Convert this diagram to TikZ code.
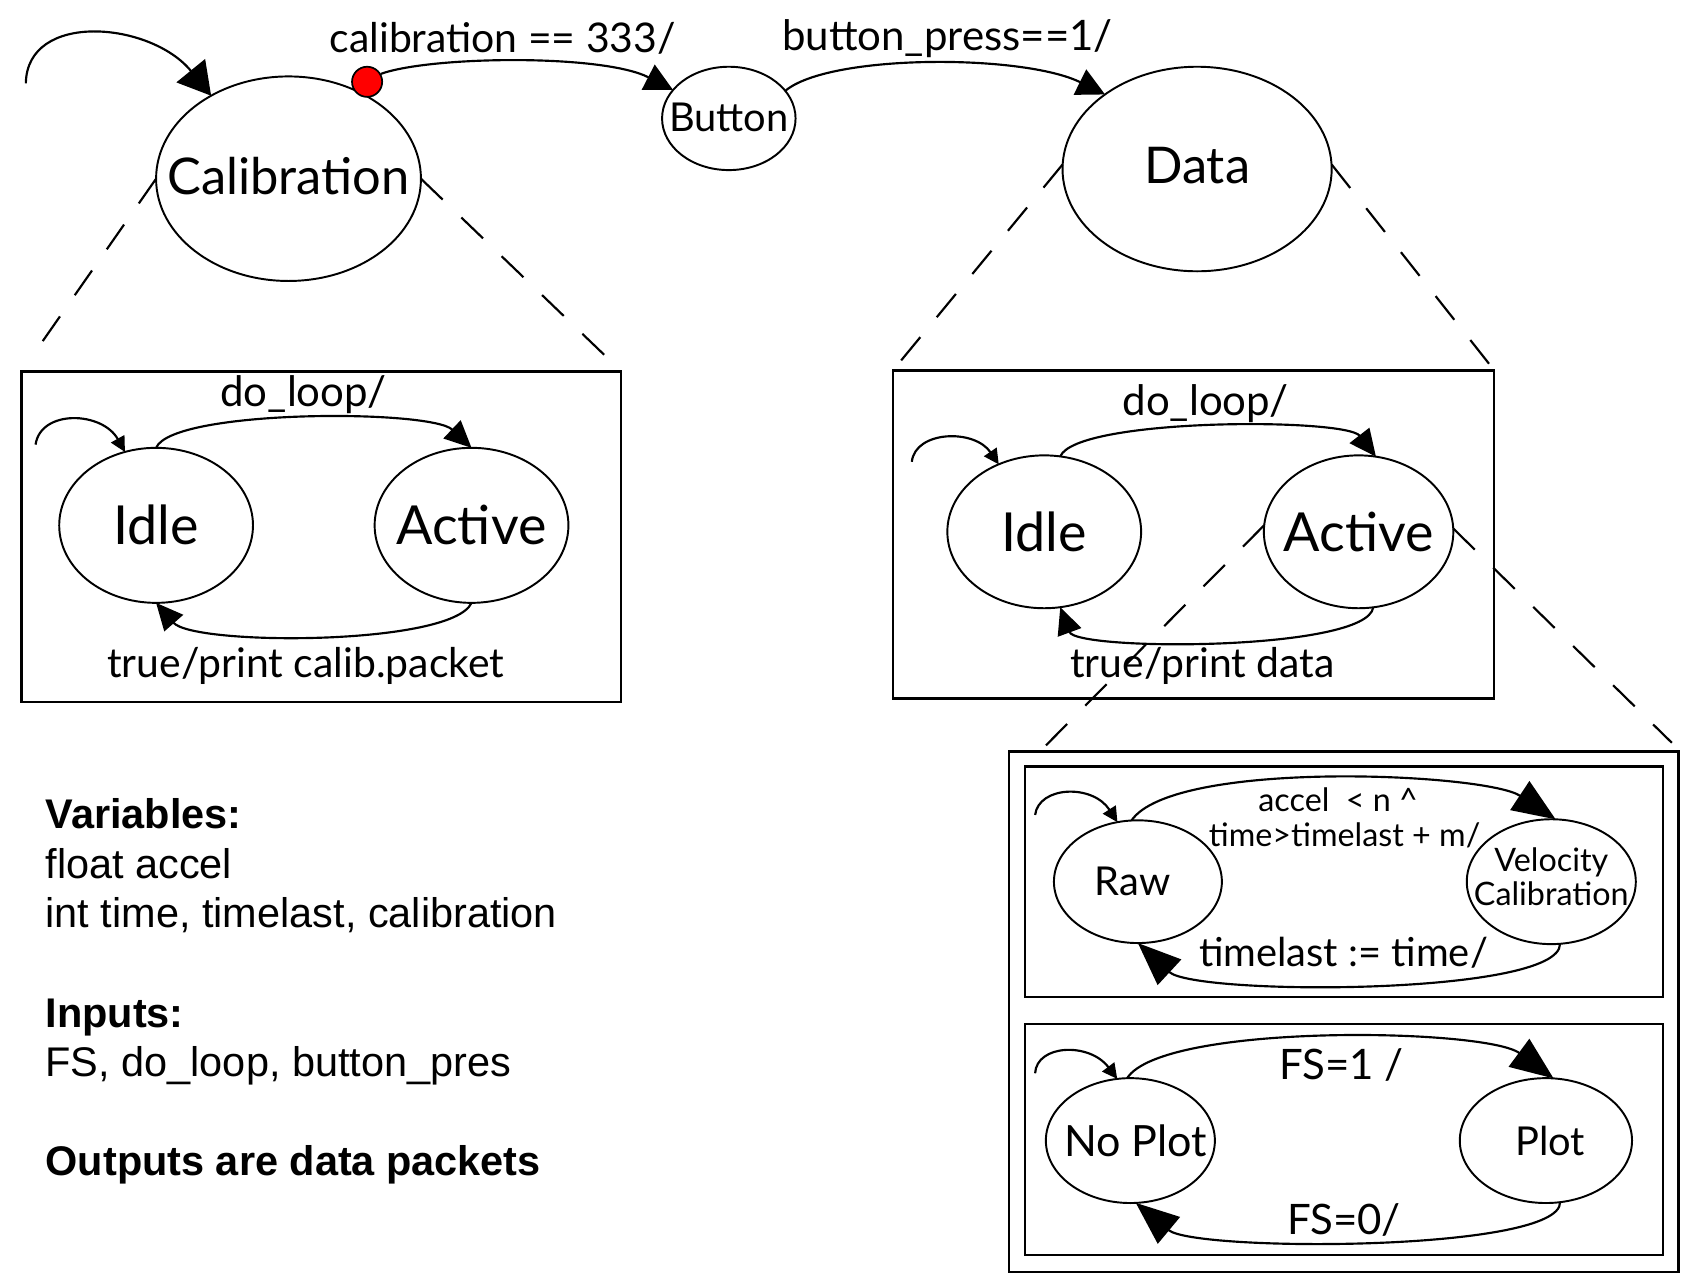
\documentclass[tikz,border=0pt]{standalone}
\usepackage{fontspec}
\setmainfont{Lato}
\newfontfamily\arialfont{Liberation Sans}
\usetikzlibrary{shapes.geometric,arrows.meta}
\newcommand\setfs[1]{\fontsize{#1}{#1}\selectfont}
\newcommand\nowd[1]{\makebox[0pt]{#1}}
\begin{document}
\begin{tikzpicture}[x=0.5pt,y=-0.5pt,
  st/.style={draw, ellipse, line width=0.9pt, inner sep=0pt, outer sep=0pt},
  ln/.style={line width=1pt},
  frame/.style={draw, line width=1.1pt, inner sep=0pt, outer sep=0pt},
  lbl/.style={inner sep=0pt},
  dsh/.style={line width=1pt, dash pattern=on 14pt off 12pt},
  toptip/.style={-{Triangle[length=13pt,width=13pt]}},
  looptip/.style={-{Triangle[length=15pt,width=17pt]}},
  midtip/.style={-{Triangle[length=12.5pt,width=11.5pt]}},
  smalltip/.style={-{Triangle[length=7pt,width=7pt]}},
  vtip/.style={-{Triangle[length=20pt,width=16pt]}},
  txt/.style={anchor=base west, inner sep=0pt, font=\arialfont\setfs{19.25}}
]
\useasboundingbox (0,0) rectangle (1568,1187);

% ---------- top level ----------
\node[st, minimum width=123pt, minimum height=95pt, font=\setfs{23.5}] (calib) at (268,166) {\nowd{\raisebox{2.5pt}{Calibration}}};
\node[st, minimum width=62pt, minimum height=48pt, font=\setfs{18.5}] (button) at (677,110) {\nowd{\raisebox{1.5pt}{Button}}};
\node[st, minimum width=125pt, minimum height=95pt, font=\setfs{23.5}] (data) at (1112,157) {\nowd{\raisebox{3pt}{Data}}};
\node[circle, draw, fill=red, line width=0.8pt, minimum size=14pt, inner sep=0pt] (dot) at (341,76) {};

\coordinate (l0) at (24,77.5);
\draw[ln, looptip] (l0) .. controls (25,10) and (140,20) .. (calib.133);
\draw[ln, toptip] (dot.30) .. controls (400,52) and (560,50) .. (button.153);
\draw[ln, toptip] (button.26) .. controls (770,50) and (950,50) .. (data.141);
\node[lbl, font=\setfs{19}] (lcb) at (467,36) {calibration == 333/};
\node[lbl, font=\setfs{19.5}] (lbp) at (880,36) {button\_press==1/};

% ---------- left box ----------
\node[frame, minimum width=278.5pt, minimum height=153.5pt] (lbox) at (298.5,498.5) {};
\node[st, minimum width=90pt, minimum height=72pt, font=\setfs{25}] (idle1) at (145,488) {\nowd{Idle}};
\node[st, minimum width=90pt, minimum height=72pt, font=\setfs{25}] (active1) at (438,488) {\nowd{Active}};
\coordinate (l1) at (33,413);
\draw[ln, smalltip] (l1) .. controls (38,380) and (95,382) .. (idle1.113);
\draw[ln, midtip] (idle1.north) .. controls (160,380) and (400,380) .. (active1.north);
\draw[ln, midtip] (active1.south) .. controls (420,600) and (180,600) .. (idle1.south);
\node[lbl, font=\setfs{19.5}] (dl1) at (282,367) {do\_loop/};
\node[lbl, font=\setfs{19}] (tl1) at (284,619) {true/print calib.packet};

% ---------- middle box ----------
\node[frame, minimum width=279.25pt, minimum height=152.5pt] (mbox) at (1108.75,496.5) {};
\node[st, minimum width=90pt, minimum height=71pt, font=\setfs{25}] (idle2) at (970,494) {\nowd{Idle}};
\node[st, minimum width=88pt, minimum height=71pt, font=\setfs{25}] (active2) at (1262,494) {\nowd{Active}};
\coordinate (l2) at (847,429);
\draw[ln, smalltip] (l2) .. controls (850,400) and (905,398) .. (idle2.124);
\draw[ln, midtip] (idle2.78) .. controls (1000,388) and (1250,388) .. (active2.77);
\draw[ln, midtip] (active2.-79) .. controls (1270,605) and (1000,605) .. (idle2.-78);
\node[lbl, font=\setfs{19.5}] (dl2) at (1120,375) {do\_loop/};
\node[lbl, font=\setfs{19}] (tl2) at (1117,619) {true/print data};

% ---------- dashed zoom lines ----------
\coordinate (d1) at (34,325);
\coordinate (d2) at (570,338);
\coordinate (d3) at (967,697);
\coordinate (d4) at (1553,690);
\draw[dsh] (calib.180) -- (d1);
\draw[dsh] (calib.0) -- (d2);
\draw[dsh] (data.178) -- (mbox.north west);
\draw[dsh] (data.2) -- (mbox.north east);
\draw[dsh] (active2.176) -- (d3);
\draw[dsh] (active2.2) -- (d4);

% ---------- big box ----------
\node[frame, minimum width=311pt, minimum height=241.75pt] (bbox) at (1248,939.75) {};
\node[frame, minimum width=296.5pt, minimum height=107pt] (ibox1) at (1248.5,819) {};
\node[frame, minimum width=296.5pt, minimum height=107.5pt] (ibox2) at (1248.5,1058.5) {};

\node[st, minimum width=78pt, minimum height=57pt, font=\setfs{18.5}] (raw) at (1057,819) {\nowd{\hspace{-5pt}Raw}};
\node[st, minimum width=78.5pt, minimum height=58pt, font=\setfs{15}] (vc) at (1441,819)
  {\nowd{\begin{tabular}{@{}c@{}}Velocity\\Calibration\end{tabular}}};
\coordinate (l3) at (961.5,757);
\draw[ln, smalltip] (l3) .. controls (965,730) and (1015,728) .. (raw.109);
\draw[ln, vtip] (raw.96) .. controls (1090,705) and (1380,718) .. (vc.86);
\draw[ln, vtip] (vc.-82) .. controls (1450,925) and (1110,925) .. (raw.south);
\node[lbl, font=\setfs{15}] (la1) at (1243,743) {accel\ \ < n \textasciicircum};
\node[lbl, font=\setfs{15}] (la2) at (1249,776) {time>timelast + m/};
\node[lbl, font=\setfs{18.5}] (la3) at (1248,885) {timelast := time/};

\node[st, minimum width=78.5pt, minimum height=58pt, font=\setfs{20}] (noplot) at (1050,1059.5) {\nowd{\hspace{5pt}No Plot}};
\node[st, minimum width=80pt, minimum height=58pt, font=\setfs{18.5}] (plot) at (1436,1059.5) {\nowd{\hspace{4pt}Plot}};
\coordinate (l4) at (961.5,997);
\draw[ln, smalltip] (l4) .. controls (963,970) and (1012,968) .. (noplot.102);
\draw[ln, vtip] (noplot.93) .. controls (1080,950) and (1380,955) .. (plot.83);
\draw[ln, vtip] (plot.-77) .. controls (1450,1163) and (1110,1163) .. (noplot.-85);
\node[lbl, font=\setfs{19.5}] (lf1) at (1246,989) {FS=1 /};
\node[lbl, font=\setfs{19.5}] (lf0) at (1248.5,1133) {FS=0/};

% ---------- text block ----------
\node[txt] (t1) at (42,770) {\bfseries Variables:};
\node[txt] (t2) at (42,816) {float accel};
\node[txt] (t3) at (42,862) {int time, timelast, calibration};
\node[txt] (t4) at (42,954) {\bfseries Inputs:};
\node[txt] (t5) at (42,1000) {FS, do\_loop, button\_pres};
\node[txt] (t6) at (42,1092) {\bfseries Outputs are data packets};
\end{tikzpicture}
\end{document}
